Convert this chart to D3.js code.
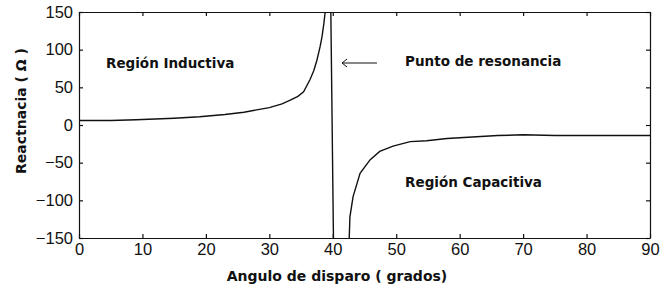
<!DOCTYPE html>
<html>
<head>
<meta charset="utf-8">
<script src="https://cdn.jsdelivr.net/npm/d3@7"></script>
<style>
  body { margin: 0; background: #fff; }
  svg { display: block; }
</style>
</head>
<body>
<div id="chart"></div>
<script>
// angle (degrees) and reactance (ohm)
const angulo = [0, 5, 9, 12, 15, 19, 23, 26, 28, 30, 32, 33.3, 34.5, 35.4, 36.4, 37, 37.5, 38, 38.3, 38.6, 38.8, 39.1, 39.35,
  40.45, 42.5, 42.6, 42.7, 43.2, 44.3, 45.9, 47.4, 49.5, 52.2, 54.8, 58, 62, 66, 70, 75, 80, 85, 90];
const reactancia = [6, 6, 7, 8, 9, 11, 14, 17, 20, 23, 28, 33, 38, 44, 60, 72, 86, 104, 117, 135, 150, 200, 400,
  -400, -200, -148, -122, -95, -64, -46, -35, -28, -22, -21, -18, -16, -14, -13, -14, -14, -14, -14];

const xTicks = [0, 10, 20, 30, 40, 50, 60, 70, 80, 90];
const yTicks = [-150, -100, -50, 0, 50, 100, 150];

const W = 660, H = 293;
const MARGIN = { TOP: 12, RIGHT: 10, BOTTOM: 55, LEFT: 79 };

const svg = d3.select("#chart").append("svg")
  .attr("width", W)
  .attr("height", H)
  .style("font-family", "'DejaVu Sans', Verdana, sans-serif");

const x = d3.scaleLinear().domain([0, 90]).range([MARGIN.LEFT, W - MARGIN.RIGHT]);
const y = d3.scaleLinear().domain([-150, 150]).range([H - MARGIN.BOTTOM, MARGIN.TOP]);

// clip so the curve stops at the frame
svg.append("clipPath").attr("id", "plot")
  .append("rect")
  .attr("x", x(0)).attr("y", y(150))
  .attr("width", x(90) - x(0)).attr("height", y(-150) - y(150));

// axes, ticks pointing in
svg.append("g")
  .attr("transform", `translate(0,${y(-150)})`)
  .call(d3.axisBottom(x).tickValues(xTicks).tickSizeInner(-4).tickSizeOuter(0).tickPadding(5));
svg.append("g")
  .attr("transform", `translate(${x(0)},0)`)
  .call(d3.axisLeft(y).tickValues(yTicks).tickSizeInner(-4).tickSizeOuter(0).tickPadding(6));
svg.append("g")
  .attr("transform", `translate(0,${y(150)})`)
  .call(d3.axisTop(x).tickValues(xTicks).tickSizeInner(-4).tickSizeOuter(0).tickFormat(""));
svg.append("g")
  .attr("transform", `translate(${x(90)},0)`)
  .call(d3.axisRight(y).tickValues(yTicks).tickSizeInner(-4).tickSizeOuter(0).tickFormat(""));

svg.selectAll(".domain").attr("stroke", "#111").attr("stroke-width", 1.2);
svg.selectAll(".tick line").attr("stroke", "#111").attr("stroke-width", 1.2);
svg.selectAll(".tick text")
  .attr("fill", "#111")
  .style("font-size", "16.5px");

// curve
const line = d3.line()
  .x((d, i) => x(angulo[i]))
  .y(d => y(d));

svg.append("path")
  .datum(reactancia)
  .attr("clip-path", "url(#plot)")
  .attr("fill", "none")
  .attr("stroke", "#111")
  .attr("stroke-width", 1.4)
  .attr("d", line);

// annotations
const note = (txt, xv, yv) => svg.append("text")
  .attr("x", x(xv)).attr("y", y(yv))
  .attr("fill", "#111")
  .style("font-size", "13.5px")
  .style("font-weight", "bold")
  .text(txt);

note("Región Inductiva", 4.26, 75.7);
note("Punto de resonancia", 51.4, 78.3);
note("Región Capacitiva", 51.4, -82.3);

// arrow pointing at the resonance
const ax0 = x(46.97), ax1 = x(41.46), ay = y(82.3);
svg.append("line")
  .attr("x1", ax0).attr("y1", ay).attr("x2", ax1).attr("y2", ay)
  .attr("stroke", "#111").attr("stroke-width", 1);
svg.append("path")
  .attr("d", `M${ax1 + 5},${ay - 4}L${ax1},${ay}L${ax1 + 5},${ay + 4}`)
  .attr("fill", "none").attr("stroke", "#111").attr("stroke-width", 1);

// axis titles
svg.append("text")
  .attr("x", 337).attr("y", 281)
  .attr("text-anchor", "middle")
  .attr("fill", "#111")
  .style("font-size", "14px")
  .style("font-weight", "bold")
  .text("Angulo de disparo ( grados)");

svg.append("text")
  .attr("transform", `translate(26,111) rotate(-90)`)
  .attr("text-anchor", "middle")
  .attr("fill", "#111")
  .style("font-size", "14px")
  .style("font-weight", "bold")
  .text("Reactnacia ( Ω )");
</script>
</body>
</html>
